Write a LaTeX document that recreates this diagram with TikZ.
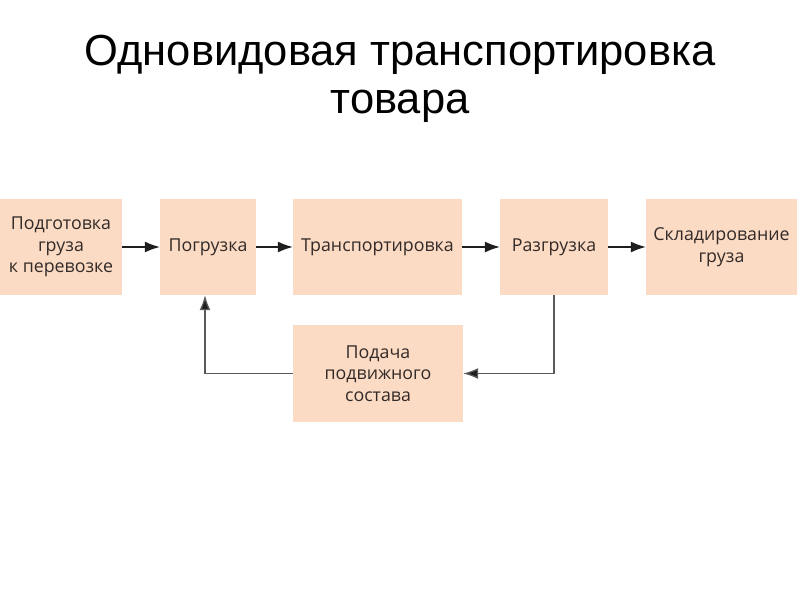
\documentclass[tikz,border=0pt]{standalone}
\usepackage{fontspec}
\setmainfont{Liberation Sans}
\newfontfamily\boxfont{Open Sans}
\usetikzlibrary{arrows.meta,positioning}
\definecolor{boxfill}{RGB}{252,219,196}
\definecolor{boxtext}{RGB}{50,42,40}
\definecolor{linecol}{RGB}{30,30,30}
\definecolor{loopcol}{RGB}{90,90,90}

\begin{document}
\begin{tikzpicture}[x=1pt,y=-1pt,
   box/.style={fill=boxfill,inner sep=0pt,align=center,text=boxtext,
     font=\boxfont\fontsize{17.8}{21.5}\selectfont,minimum height=96pt},
   link/.style={draw=linecol,line width=1.3pt,
     -{Latex[length=15pt,width=11pt,fill=linecol]}}]
  \useasboundingbox (0,0) rectangle (800,600);
  % title
  \node[align=center,font=\fontsize{43.5}{48}\selectfont] (title) at (400,79)
    {Одновидовая транспортировка\\товара};
  % main chain
  \node[box,minimum width=122pt] (prep) at (61,247) {Подготовка\\груза\\к перевозке};
  \node[box,minimum width=96pt] (load) at (208,247) {Погрузка};
  \node[box,minimum width=169pt] (trans) at (377.5,247) {Транспортировка};
  \node[box,minimum width=108pt] (unload) at (554,247) {Разгрузка};
  \node[box,minimum width=151pt] (store) at (721.5,247) {Складирование\\груза};
  \node[box,minimum width=170pt,minimum height=97pt] (feed) at (378,373.5)
    {Подача\\подвижного\\состава};
  \draw[link] (prep) -- (load);
  \draw[link] (load) -- (trans);
  \draw[link] (trans) -- (unload);
  \draw[link] (unload) -- (store);
  % return loop
  \draw[link,draw=loopcol] (unload.south) |- (feed.east);
  \draw[link,draw=loopcol] (feed.west) -| ([xshift=-3pt]load.south);
\end{tikzpicture}
\end{document}
